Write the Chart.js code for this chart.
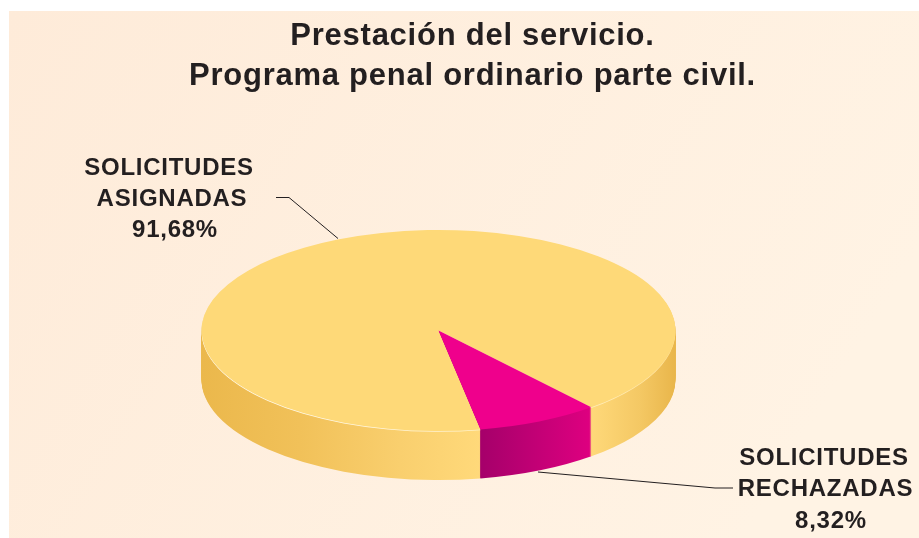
<!DOCTYPE html>
<html>
<head>
<meta charset="utf-8">
<style>html,body{margin:0;padding:0;background:#fff}canvas{display:block}</style>
<script src="https://cdn.jsdelivr.net/npm/chart.js@4"></script>
</head>
<body>
<canvas id="c" width="919" height="538"></canvas>
<script>
const titleLines = ['Prestación del servicio.', 'Programa penal ordinario parte civil.'];
const categories = ['SOLICITUDES ASIGNADAS', 'SOLICITUDES RECHAZADAS'];
const values = [91.68, 8.32];
const topColors = ['#FED978', '#EF008C'];
const valueLabels = ['91,68%', '8,32%'];
const assignedLabelLines = ['SOLICITUDES', 'ASIGNADAS', valueLabels[0]];
const rejectedLabelLines = ['SOLICITUDES', 'RECHAZADAS', valueLabels[1]];

const INK = '#231F20';
const VIEW = {cx: 438.5, cy: 330.5, rx: 237, ry: 100.5, depth: 49};

const pie3d = {
  id: 'pie3d',
  beforeDraw(chart) {
    const {ctx} = chart;
    ctx.letterSpacing = '0.75px';
    const g = ctx.createLinearGradient(9, 11, 780, 480);
    g.addColorStop(0, '#FEEBD9');
    g.addColorStop(1, '#FFF3E4');
    ctx.save();
    ctx.fillStyle = g;
    ctx.fillRect(9, 11, 910, 527);
    ctx.restore();
  },
  beforeDatasetsDraw(chart) {
    const {ctx} = chart;
    const arcs = chart.getDatasetMeta(0).data;
    const a0 = arcs[0];
    const sx = VIEW.rx / a0.outerRadius, sy = VIEW.ry / a0.outerRadius;
    const toChartX = X => a0.x + (X - VIEW.cx) / sx;
    const grad = stops => {
      const g = ctx.createLinearGradient(toChartX(stops[0][0]), 0, toChartX(stops[stops.length - 1][0]), 0);
      const a = stops[0][0], b = stops[stops.length - 1][0];
      stops.forEach(s => g.addColorStop((s[0] - a) / (b - a), s[1]));
      return g;
    };
    const wall = [
      grad([[202, '#EBB84C'], [300, '#F1C159'], [400, '#F9CF6E'], [480, '#FFD97A'], [590, '#FFD97A'], [640, '#F4C864'], [675, '#E9B64B']]),
      grad([[480, '#A5006A'], [590, '#DE0080']])
    ];
    const rim = grad([[202, '#FFFFFF'], [480, '#FFF0C8'], [590, '#FFEEBE'], [675, '#FFE29A']]);
    const sheet = (arc, dy, fill) => {
      ctx.fillStyle = fill;
      ctx.beginPath();
      ctx.moveTo(arc.x, arc.y + dy / sy);
      ctx.arc(arc.x, arc.y + dy / sy, arc.outerRadius, arc.startAngle, arc.endAngle);
      ctx.closePath();
      ctx.fill();
    };
    ctx.save();
    ctx.translate(VIEW.cx, VIEW.cy);
    ctx.scale(sx, sy);
    ctx.translate(-a0.x, -a0.y);
    for (let dy = VIEW.depth; dy >= 1; dy--) {
      arcs.forEach((arc, i) => sheet(arc, dy, wall[i]));
    }
    sheet(arcs[0], 0.8, rim);
  },
  afterDatasetsDraw(chart) {
    chart.ctx.restore();
  },
  afterDraw(chart) {
    const {ctx} = chart;
    ctx.save();
    ctx.strokeStyle = INK;
    ctx.lineWidth = 1;
    ctx.beginPath();
    ctx.moveTo(276, 197.5); ctx.lineTo(289, 197.5); ctx.lineTo(338, 238.5);
    ctx.moveTo(538, 472); ctx.lineTo(715, 488); ctx.lineTo(733, 488);
    ctx.stroke();
    ctx.fillStyle = INK;
    ctx.font = 'bold 24px "Liberation Sans"';
    ctx.textAlign = 'center';
    ctx.textBaseline = 'alphabetic';
    const a = [[169, 175], [172, 206], [175, 237]];
    const r = [[824, 465], [825.5, 496], [831, 528]];
    assignedLabelLines.forEach((t, i) => ctx.fillText(t, a[i][0], a[i][1]));
    rejectedLabelLines.forEach((t, i) => ctx.fillText(t, r[i][0], r[i][1]));
    ctx.restore();
  }
};

new Chart(document.getElementById('c'), {
  type: 'pie',
  data: {
    labels: categories,
    datasets: [{data: values, backgroundColor: topColors, borderWidth: 0}]
  },
  options: {
    responsive: false,
    animation: false,
    rotation: 169.8,
    layout: {padding: {left: 26, right: 0, top: 0, bottom: 0}},
    plugins: {
      legend: {display: false},
      tooltip: {enabled: false},
      title: {
        display: true,
        fullSize: false,
        text: titleLines,
        color: INK,
        font: {family: '"Liberation Sans"', size: 31, weight: 'bold', lineHeight: 1.29},
        padding: {top: 16, bottom: 10}
      }
    }
  },
  plugins: [pie3d]
});
</script>
</body>
</html>
